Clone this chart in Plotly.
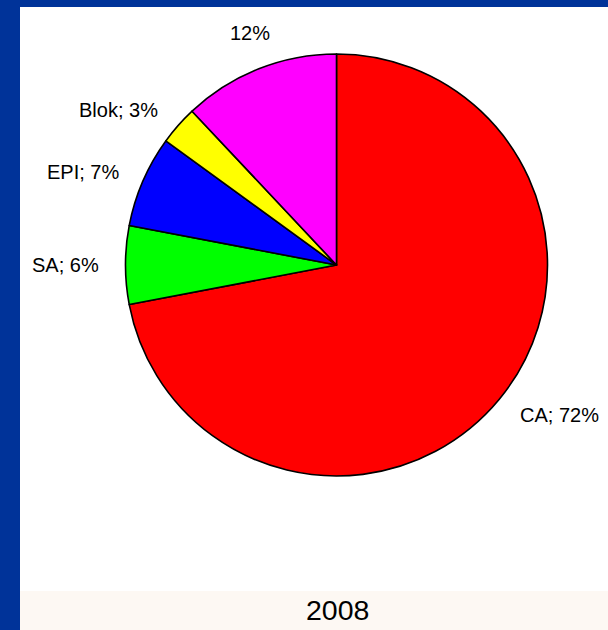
import math
import plotly.graph_objects as go

# ---- data ----
categories = ["CA", "SA", "EPI", "Blok", ""]
values = [72, 6, 7, 3, 12]
label_texts = ["CA; 72%", "SA; 6%", "EPI; 7%", "Blok; 3%", "12%"]
colors = ["#FF0000", "#00FF00", "#0000FF", "#FFFF00", "#FF00FF"]
year_label = "2008"

# ---- layout constants ----
W, H = 608, 630
cx, cy, r = 336.5, 265.0, 211.0
label_r = 1.114 * r
xanchors = ["left", "right", "right", "right", "center"]
yanchors = ["middle", "middle", "middle", "middle", "bottom"]
FONT = "Liberation Sans, Arial, sans-serif"


def px_x(x):
    return x / W


def px_y(y):
    return 1 - y / H


fig = go.Figure(
    go.Pie(
        labels=categories,
        values=values,
        sort=False,
        direction="clockwise",
        rotation=0,
        marker=dict(colors=colors, line=dict(color="black", width=1.6)),
        textinfo="none",
        hoverinfo="label+percent",
        showlegend=False,
        domain=dict(x=[px_x(cx - r), px_x(cx + r)], y=[px_y(cy + r), px_y(cy - r)]),
    )
)

# labels placed along each slice's mid-angle
total = sum(values)
annotations = []
cum = 0.0
for i, v in enumerate(values):
    mid = (cum + v / 2) / total * 2 * math.pi
    cum += v
    lx = cx + label_r * math.sin(mid)
    ly = cy - label_r * math.cos(mid)
    annotations.append(
        dict(
            x=px_x(lx), y=px_y(ly), xref="paper", yref="paper",
            text=label_texts[i], showarrow=False,
            xanchor=xanchors[i], yanchor=yanchors[i],
            font=dict(family=FONT, size=20, color="black"),
        )
    )

annotations.append(
    dict(
        x=px_x(337), y=px_y(610), xref="paper", yref="paper",
        text=year_label, showarrow=False, xanchor="center", yanchor="middle",
        font=dict(family=FONT, size=28.5, color="black"),
    )
)

blue = "#003399"
shapes = [
    dict(type="rect", xref="paper", yref="paper", x0=0, x1=px_x(20), y0=0, y1=1,
         fillcolor=blue, line=dict(width=0), layer="above"),
    dict(type="rect", xref="paper", yref="paper", x0=0, x1=1, y0=px_y(7), y1=1,
         fillcolor=blue, line=dict(width=0), layer="above"),
    dict(type="rect", xref="paper", yref="paper", x0=px_x(20), x1=1, y0=0, y1=px_y(591),
         fillcolor="#FDF8F3", line=dict(width=0), layer="above"),
]

fig.update_layout(
    width=W, height=H,
    margin=dict(l=0, r=0, t=0, b=0),
    paper_bgcolor="white",
    plot_bgcolor="white",
    annotations=annotations,
    shapes=shapes,
    font=dict(family=FONT),
)

fig.write_html(
    "out.html",
    config={"displayModeBar": False},
    post_script="document.body.style.margin='0';document.body.style.overflow='hidden';",
)
